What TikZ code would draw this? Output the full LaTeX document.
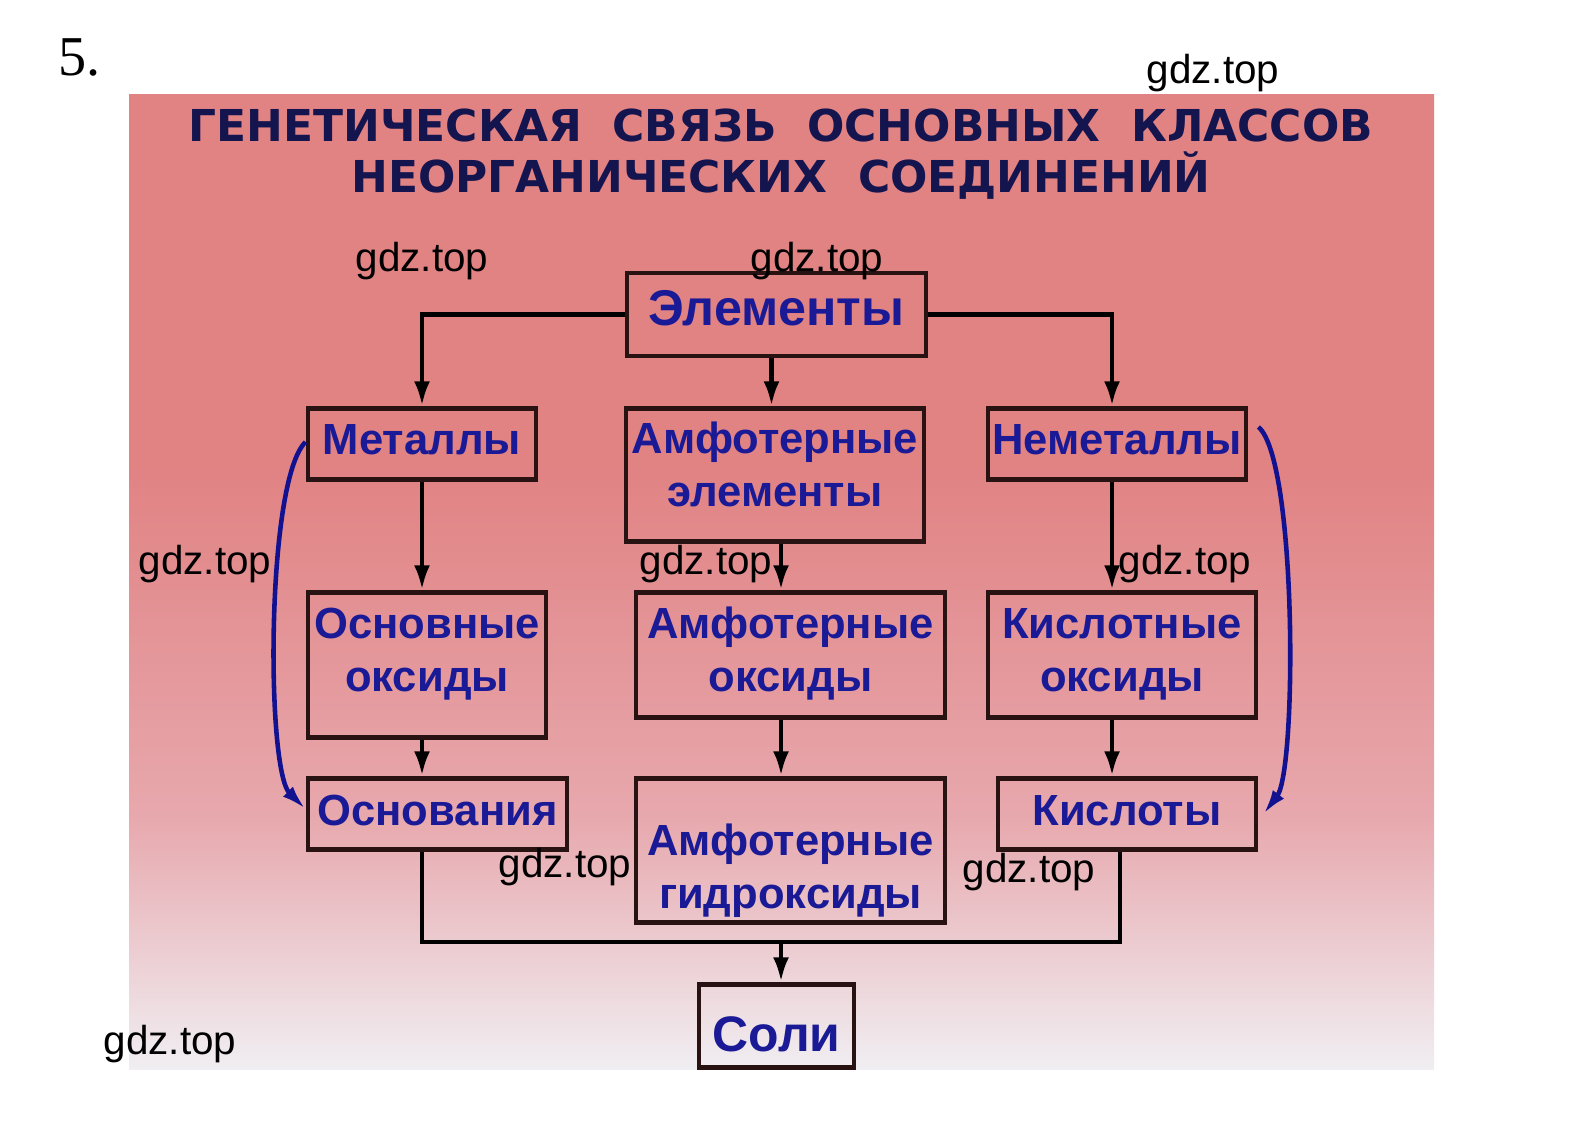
\documentclass[tikz,border=0pt]{standalone}
\usepackage{fontspec}
\usepackage{tikz}
\usetikzlibrary{arrows.meta,positioning}
\setmainfont{Liberation Sans}
\newfontfamily\titlefont{DejaVu Sans}
\newfontfamily\numfont{Liberation Serif}
\definecolor{ramka}{RGB}{40,18,18}
\definecolor{tekst}{RGB}{26,26,150}
\definecolor{zagolovok}{RGB}{20,20,78}
\definecolor{strelka}{RGB}{18,18,145}
\definecolor{bgtop}{RGB}{225,130,131}
\definecolor{bgmid}{RGB}{231,168,173}
\definecolor{bglow}{RGB}{240,238,242}
\pgfdeclareverticalshading{fon}{100bp}{color(0bp)=(bglow); color(25bp)=(bglow); color(38bp)=(bgmid); color(56bp)=(bgtop); color(75bp)=(bgtop); color(100bp)=(bgtop)}
\tikzstyle{klass} = [rectangle, draw=ramka, line width=1.4pt, inner sep=0pt, text centered, text=tekst, font=\fontsize{12.4}{15.2}\selectfont\bfseries]
\tikzstyle{arrow} = [line width=1.3pt, -{Latex[length=7pt,width=4.5pt]}]
\tikzstyle{link} = [line width=1.3pt]
\tikzstyle{duga} = [line width=1.3pt, draw=strelka, -{Latex[length=7pt,width=4pt]}]
\tikzstyle{wm} = [font=\fontsize{11.5}{13}\selectfont, text=black, inner sep=0pt]

\begin{document}
\begin{tikzpicture}[node distance=2cm]
\useasboundingbox (0,0) rectangle (15.85,-11.46);
\shade[shading=fon] (1.29,-0.94) rectangle (14.34,-10.69);

\node (nomer) [anchor=base west, inner sep=0pt, font=\numfont\fontsize{16}{18}\selectfont] at (0.58,-0.76) {5.};
\node (title) [align=center, text=zagolovok, inner sep=0pt, font=\titlefont\bfseries\fontsize{12.5}{14.5}\selectfont] at (7.81,-1.54) {ГЕНЕТИЧЕСКАЯ\ \ СВЯЗЬ\ \ ОСНОВНЫХ\ \ КЛАССОВ\\НЕОРГАНИЧЕСКИХ\ \ СОЕДИНЕНИЙ};

\node (elem) [klass, text width=2.99cm, minimum height=0.83cm, text height=0.22cm, text depth=0cm, font=\fontsize{14.3}{16}\selectfont\bfseries] at (7.765,-3.145) {Элементы};
\node (met) [klass, below of=elem, xshift=-3.545cm, yshift=0.705cm, text width=2.28cm, minimum height=0.71cm, text height=0.21cm, text depth=0cm] {Металлы};
\node (amel) [klass, below of=elem, xshift=-0.015cm, yshift=0.395cm, text width=2.98cm, minimum height=1.33cm, text height=0cm, text depth=0.43cm] {Амфотерные\\элементы};
\node (nemet) [klass, below of=elem, xshift=3.405cm, yshift=0.705cm, text width=2.58cm, minimum height=0.71cm, text height=0.21cm, text depth=0cm] {Неметаллы};

\node (osnox) [klass, below of=met, xshift=0.05cm, yshift=-0.21cm, text width=2.38cm, minimum height=1.45cm, text height=0cm, text depth=0.53cm] {Основные\\оксиды};
\node (amox) [klass, below of=amel, xshift=0.155cm, yshift=0.2cm, text width=3.09cm, minimum height=1.25cm, text height=0cm, text depth=0.33cm] {Амфотерные\\оксиды};
\node (kisox) [klass, below of=nemet, xshift=0.05cm, yshift=-0.11cm, text width=2.68cm, minimum height=1.25cm, text height=0cm, text depth=0.33cm] {Кислотные\\оксиды};

\node (osnov) [klass, below of=osnox, xshift=0.105cm, yshift=0.51cm, text width=2.59cm, minimum height=0.71cm, text height=0.23cm, text depth=0cm] {Основания};
\node (amhyd) [klass, below of=amox, yshift=0.045cm, text width=3.09cm, minimum height=1.44cm, text height=0.1cm, text depth=0cm] {Амфотерные\\гидроксиды};
\node (kisl) [klass, below of=kisox, xshift=0.05cm, yshift=0.41cm, text width=2.58cm, minimum height=0.71cm, text height=0.23cm, text depth=0cm] {Кислоты};

\node (soli) [klass, below of=amhyd, xshift=-0.14cm, yshift=0.245cm, text width=1.55cm, minimum height=0.83cm, text height=0.5cm, text depth=0cm, font=\fontsize{14.2}{16}\selectfont\bfseries] {Соли};

\coordinate (mid) at ([xshift=0.06cm]amel.south);
\coordinate (rcol) at ([xshift=-0.05cm]nemet.south);
\coordinate (shina) at (0,-9.42);

\draw [arrow] (elem.west) -| (met.north);
\draw [arrow] (elem.east) -| (rcol |- nemet.north);
\draw [arrow] ([xshift=-0.05cm]elem.south) -- ([xshift=-0.05cm]elem.south |- amel.north);
\draw [arrow] (met.south) -- (met.south |- osnox.north);
\draw [arrow] (mid) -- (mid |- amox.north);
\draw [arrow] (rcol) -- (rcol |- kisox.north);
\draw [arrow] (met.south |- osnox.south) -- (met.south |- osnov.north);
\draw [arrow] (mid |- amox.south) -- (mid |- amhyd.north);
\draw [arrow] (rcol |- kisox.south) -- (rcol |- kisl.north);
\draw [link] (met.south |- osnov.south) -- (met.south |- shina) -| ([xshift=-0.07cm]kisl.south);
\draw [arrow] (mid |- shina) -- (mid |- soli.north);

\draw [duga] ([yshift=0.02cm]met.west) .. controls (2.66,-4.8) and (2.66,-7.7) .. ([yshift=0.05cm]osnov.west);
\draw [duga] ([xshift=0.1cm,yshift=0.17cm]nemet.east) .. controls (12.97,-4.6) and (12.97,-7.7) .. ([xshift=0.05cm]kisl.east);

\node (wm1) [wm] at (4.22,-2.61) {gdz.top};
\node (wm2) [wm] at (8.17,-2.61) {gdz.top};
\node (wm3) [wm] at (12.13,-0.73) {gdz.top};
\node (wm4) [wm] at (2.05,-5.64) {gdz.top};
\node (wm5) [wm] at (7.06,-5.64) {gdz.top};
\node (wm6) [wm] at (11.85,-5.64) {gdz.top};
\node (wm7) [wm] at (5.65,-8.67) {gdz.top};
\node (wm8) [wm] at (10.29,-8.72) {gdz.top};
\node (wm9) [wm] at (1.70,-10.44) {gdz.top};
\end{tikzpicture}
\end{document}
